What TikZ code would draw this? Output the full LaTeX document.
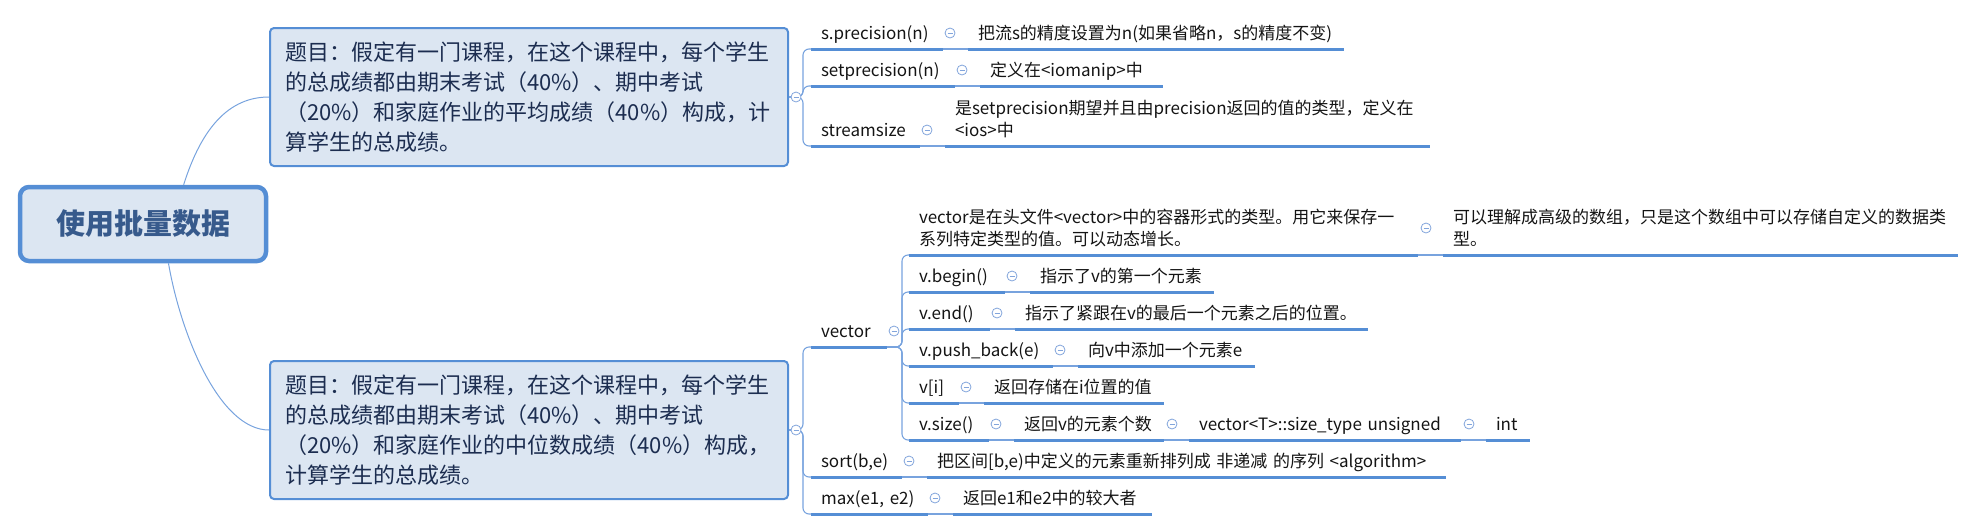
\documentclass[tikz,border=0pt]{standalone}
\usepackage{fontspec}
\setmainfont{Noto Sans CJK SC}
\hyphenpenalty=10000

\definecolor{mapline}{RGB}{85,142,213}
\definecolor{boxfill}{RGB}{220,230,242}
\definecolor{linkblue}{RGB}{120,163,222}
\definecolor{foldblue}{RGB}{130,165,220}
\definecolor{itemtext}{RGB}{20,20,20}
\definecolor{topictext}{RGB}{28,45,80}
\definecolor{roottext}{RGB}{55,90,140}

\begin{document}
\begin{tikzpicture}[x=1pt, y=-1pt]
    \tikzstyle{root} = [rectangle, draw=mapline, line width=4.5pt, fill=boxfill, rounded corners=9pt,
        minimum width=246pt, minimum height=74pt, text=roottext, font=\bfseries\fontsize{29pt}{32pt}\selectfont]
    \tikzstyle{topic} = [rectangle, draw=mapline, line width=2pt, fill=boxfill, rounded corners=4pt,
        text width=488pt, inner xsep=15pt, minimum height=138pt, align=left, text=topictext,
        font=\fontsize{22pt}{30pt}\selectfont]
    \tikzstyle{item} = [rectangle, anchor=south west, inner xsep=10pt, inner ysep=11pt, outer xsep=0pt, outer ysep=-1.5pt,
        text height=13pt, text depth=0pt, align=left, text=itemtext, font=\fontsize{17pt}{22pt}\selectfont,
        path picture={\fill[mapline] (path picture bounding box.south west) rectangle ([yshift=3pt]path picture bounding box.south east);}]
    \tikzstyle{fold} = [circle, draw=foldblue, fill=white, line width=0.8pt, minimum size=10pt, inner sep=0pt,
        path picture={\draw[foldblue, line width=0.8pt] ([xshift=-2.5pt]path picture bounding box.center) -- ([xshift=2.5pt]path picture bounding box.center);}]
    \tikzstyle{trunk} = [draw=linkblue, line width=1pt]
    \tikzstyle{link} = [draw=linkblue, line width=1.1pt]
    \tikzstyle{branch} = [draw=linkblue, line width=1.1pt, rounded corners=6pt]

    \useasboundingbox (0,0) rectangle (1976,531);

    \node[root] (root) at (143,224) {使用批量数据};

    \node[topic] (t1) at (529,97) {题目：假定有一门课程，在这个课程中，每个学生\\的总成绩都由期末考试（40\%）、期中考试\\（20\%）和家庭作业的平均成绩（40\%）构成，计\\算学生的总成绩。};
    \node[topic] (t2) at (529,430) {题目：假定有一门课程，在这个课程中，每个学生\\的总成绩都由期末考试（40\%）、期中考试\\（20\%）和家庭作业的中位数成绩（40\%）构成，\\计算学生的总成绩。};

    % stream precision
    \node[item, text width=112pt] (sp) at (811,49) {s.precision(n)};
    \node[item, text width=356pt] (spd) at (968,49) {把流s的精度设置为n(如果省略n，s的精度不变)};
    \node[item, text width=124pt] (setp) at (811,86) {setprecision(n)};
    \node[item, text width=163pt] (setpd) at (980,86) {定义在<iomanip>中};
    \node[item, text width=89pt] (ss) at (811,146) {streamsize};
    \node[item, text width=465pt, text depth=22pt] (ssd) at (945,146) {是setprecision期望并且由precision返回的值的类型，定义在\\<ios>中};

    % vector
    \node[item, text width=56pt] (vec) at (811,347) {vector};
    \node[item, text width=489pt, text depth=22pt] (vc1) at (909,255) {vector是在头文件<vector>中的容器形式的类型。用它来保存一\\系列特定类型的值。可以动态增长。};
    \node[item, text width=495pt, text depth=22pt] (vc1d) at (1443,255) {可以理解成高级的数组，只是这个数组中可以存储自定义的数据类\\型。};
    \node[item, text width=76pt] (vb) at (909,292) {v.begin()};
    \node[item, text width=164pt] (vbd) at (1030,292) {指示了v的第一个元素};
    \node[item, text width=61pt] (ve) at (909,329) {v.end()};
    \node[item, text width=333pt] (ved) at (1015,329) {指示了紧跟在v的最后一个元素之后的位置。};
    \node[item, text width=124pt] (vp) at (909,366) {v.push\_back(e)};
    \node[item, text width=157pt] (vpd) at (1078,366) {向v中添加一个元素e};
    \node[item, text width=30pt] (vi) at (909,403) {v[i]};
    \node[item, text width=160pt] (vid) at (984,403) {返回存储在i位置的值};
    \node[item, text width=60pt] (vs) at (909,440) {v.size()};
    \node[item, text width=130pt] (vsd) at (1014,440) {返回v的元素个数};
    \node[item, text width=252pt] (vst) at (1189,440) {vector<T>::size\_type~unsigned};
    \node[item, text width=24pt] (vint) at (1486,440) {int};

    % algorithms
    \node[item, text width=71pt] (so) at (811,477) {sort(b,e)};
    \node[item, text width=499pt] (sod) at (927,477) {把区间[b,e)中定义的元素重新排列成~非递减~的序列~<algorithm>};
    \node[item, text width=97pt] (mx) at (811,514) {max(e1,~e2)};
    \node[item, text width=179pt] (mxd) at (953,514) {返回e1和e2中的较大者};

    \draw[trunk] (root.44) .. controls +(18,-57) and +(-40,0) .. (t1.west);
    \draw[trunk] (root.-57) .. controls +(12,70) and +(-50,0) .. (t2.west);

    \draw[branch] (t1.east) -- ++(14,0) |- (sp.south west);
    \draw[branch] (t1.east) -- ++(14,0) |- (setp.south west);
    \draw[branch] (t1.east) -- ++(14,0) |- (ss.south west);

    \draw[branch] (t2.east) -- ++(14,0) |- (vec.south west);
    \draw[branch] (t2.east) -- ++(14,0) |- (so.south west);
    \draw[branch] (t2.east) -- ++(14,0) |- (mx.south west);

    \draw[branch] (vec.south east) -- ++(15,0) |- (vc1.south west);
    \draw[branch] (vec.south east) -- ++(15,0) |- (vb.south west);
    \draw[branch] (vec.south east) -- ++(15,0) |- (ve.south west);
    \draw[branch] (vec.south east) -- ++(15,0) |- (vp.south west);
    \draw[branch] (vec.south east) -- ++(15,0) |- (vi.south west);
    \draw[branch] (vec.south east) -- ++(15,0) |- (vs.south west);

    \draw[link] (sp.south east) -- (spd.south west);
    \draw[link] (setp.south east) -- (setpd.south west);
    \draw[link] (ss.south east) -- (ssd.south west);
    \draw[link] (vc1.south east) -- (vc1d.south west);
    \draw[link] (vb.south east) -- (vbd.south west);
    \draw[link] (ve.south east) -- (ved.south west);
    \draw[link] (vp.south east) -- (vpd.south west);
    \draw[link] (vi.south east) -- (vid.south west);
    \draw[link] (vs.south east) -- (vsd.south west);
    \draw[link] (vsd.south east) -- (vst.south west);
    \draw[link] (vst.south east) -- (vint.south west);
    \draw[link] (so.south east) -- (sod.south west);
    \draw[link] (mx.south east) -- (mxd.south west);

    \node[fold] (f1) at ([xshift=7pt]t1.east) {};
    \node[fold] (f2) at ([xshift=7pt]t2.east) {};
    \node[fold] (f3) at ([xshift=7pt]sp.east) {};
    \node[fold] (f4) at ([xshift=7pt]setp.east) {};
    \node[fold] (f5) at ([xshift=7pt]ss.east) {};
    \node[fold] (f6) at ([xshift=7pt]vec.east) {};
    \node[fold] (f7) at ([xshift=8pt]vc1.east) {};
    \node[fold] (f8) at ([xshift=7pt]vb.east) {};
    \node[fold] (f9) at ([xshift=7pt]ve.east) {};
    \node[fold] (f10) at ([xshift=7pt]vp.east) {};
    \node[fold] (f11) at ([xshift=7pt]vi.east) {};
    \node[fold] (f12) at ([xshift=7pt]vs.east) {};
    \node[fold] (f13) at ([xshift=8pt]vsd.east) {};
    \node[fold] (f14) at ([xshift=8pt]vst.east) {};
    \node[fold] (f15) at ([xshift=7pt]so.east) {};
    \node[fold] (f16) at ([xshift=7pt]mx.east) {};
\end{tikzpicture}
\end{document}
